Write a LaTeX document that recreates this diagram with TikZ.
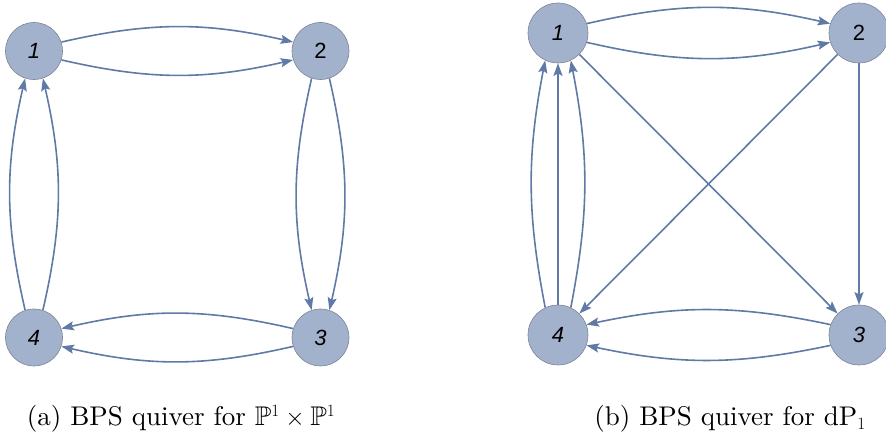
\documentclass[tikz,border=0pt]{standalone}
\usepackage{amssymb}
\usepackage{fontspec}
\newfontfamily\arialfont{Liberation Sans}
\newfontfamily\capfont{lmroman10-regular}[Extension=.otf]
\usetikzlibrary{arrows.meta}
\definecolor{vfill}{RGB}{162,178,204}
\definecolor{vdraw}{RGB}{125,132,148}
\definecolor{ecol}{RGB}{96,122,166}
\begin{document}
\begin{tikzpicture}[x=1pt,y=1pt,
  vtx/.style={circle,fill=vfill,draw=vdraw,line width=0.6pt,inner sep=0pt,
    font=\arialfont\fontsize{22}{22}\selectfont},
  vsmall/.style={vtx,minimum size=57pt},
  vbig/.style={vtx,minimum size=60pt},
  qarrow/.style={draw=ecol,line width=1.6pt,
    -{Stealth[length=12.5pt,width=9pt,inset=2.2pt]}},
  captext/.style={anchor=base,inner sep=0pt,font=\capfont\fontsize{27}{31}\selectfont}]
\useasboundingbox (0,0) rectangle (886,447);
% (a)
\node[vsmall] (n1) at (34,396) {\itshape 1};
\node[vsmall] (n2) at (320.5,396) {2};
\node[vsmall] (n3) at (320.5,109.5) {\itshape 3};
\node[vsmall] (n4) at (34,109.5) {\itshape 4};
\draw[qarrow] (n1.18) to[bend left=13] (n2.162);
\draw[qarrow] (n1.-18) to[bend right=13] (n2.-162);
\draw[qarrow] (n2.-108) to[bend right=13] (n3.108);
\draw[qarrow] (n2.-72) to[bend left=13] (n3.72);
\draw[qarrow] (n3.162) to[bend right=13] (n4.18);
\draw[qarrow] (n3.-162) to[bend left=13] (n4.-18);
\draw[qarrow] (n4.108) to[bend left=13] (n1.-108);
\draw[qarrow] (n4.72) to[bend right=13] (n1.-72);
% (b)
\node[vbig] (m1) at (558,414) {\itshape 1};
\node[vbig] (m2) at (859,414) {2};
\node[vbig] (m3) at (859,112) {\itshape 3};
\node[vbig] (m4) at (558,112) {\itshape 4};
\draw[qarrow] (m1.18) to[bend left=13] (m2.162);
\draw[qarrow] (m1.-18) to[bend right=13] (m2.-162);
\draw[qarrow] (m2.south) -- (m3.north);
\draw[qarrow] (m1) -- (m3);
\draw[qarrow] (m2) -- (m4);
\draw[qarrow] (m3.160) to[bend right=12] (m4.20);
\draw[qarrow] (m3.-160) to[bend left=12] (m4.-20);
\draw[qarrow] (m4.north) -- (m1.south);
\draw[qarrow] (m4.115) to[bend left=11] (m1.-115);
\draw[qarrow] (m4.65) to[bend right=11] (m1.-65);
% captions
\node[captext] (ca) at (181,21) {(a) BPS quiver for $\mathbb{P}^1\times\mathbb{P}^1$};
\node[captext] (cb) at (730,21) {(b) BPS quiver for dP$_1$};
\end{tikzpicture}
\end{document}
